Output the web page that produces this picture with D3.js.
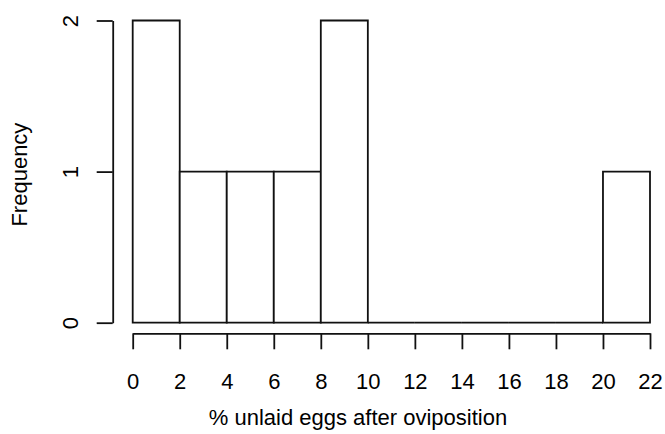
<!DOCTYPE html>
<html>
<head>
<meta charset="utf-8">
<script src="https://cdn.jsdelivr.net/npm/d3@7"></script>
<style>
  body { margin: 0; background: #fff; }
  svg text { font-family: "Liberation Sans", Arial, Helvetica, sans-serif; fill: #000; }
</style>
</head>
<body>
<div id="chart"></div>
<script>
// histogram bins (left edge, right edge) and counts
const binStarts = [0, 2, 4, 6, 8, 10, 12, 14, 16, 18, 20];
const binEnds   = [2, 4, 6, 8, 10, 12, 14, 16, 18, 20, 22];
const counts    = [2, 1, 1, 1, 2, 0, 0, 0, 0, 0, 1];
const xTicks = [0, 2, 4, 6, 8, 10, 12, 14, 16, 18, 20, 22];
const yTicks = [0, 1, 2];
const xLabel = "% unlaid eggs after oviposition";
const yLabel = "Frequency";

const W = 665, H = 434;
const fs = 22;

const svg = d3.select("#chart").append("svg")
    .attr("width", W).attr("height", H)
    .attr("viewBox", "0 0 " + W + " " + H);

const x = d3.scaleLinear().domain([0, 22]).range([132.7, 650]);
const y = d3.scaleLinear().domain([0, 2]).range([322.7, 20.5]);

// bars drawn as closed paths so empty bins still show as a flat line
svg.append("g").selectAll("path")
    .data(counts.map((c, i) => ({x0: binStarts[i], x1: binEnds[i], n: c})))
    .enter().append("path")
    .attr("d", d => {
      const p = d3.path();
      p.rect(x(d.x0), y(d.n), x(d.x1) - x(d.x0), y(0) - y(d.n));
      return p.toString();
    })
    .attr("fill", "#fff")
    .attr("stroke", "#111")
    .attr("stroke-width", 1.8)
    .attr("stroke-linejoin", "miter");

// x axis
const xAxis = svg.append("g")
    .attr("transform", "translate(0,333.3)")
    .call(d3.axisBottom(x).tickValues(xTicks).tickSize(16).tickPadding(24).tickSizeOuter(0));

// y axis
const yAxis = svg.append("g")
    .attr("transform", "translate(112.7,0)")
    .call(d3.axisLeft(y).tickValues(yTicks).tickSize(16).tickPadding(0).tickSizeOuter(0).tickFormat(d3.format("d")));

[xAxis, yAxis].forEach(a => {
  a.select(".domain").attr("stroke", "#111").attr("stroke-width", 1.8);
  a.selectAll(".tick line").attr("stroke", "#111").attr("stroke-width", 1.8);
  a.selectAll("text").style("font-size", fs + "px").attr("fill", "#000");
});

// rotate y tick labels like base R
yAxis.selectAll(".tick text")
    .attr("x", null).attr("dy", null)
    .attr("text-anchor", "middle")
    .attr("transform", "translate(-35,0) rotate(-90)");

xAxis.selectAll(".tick text").attr("dy", "0.71em");

// axis titles
svg.append("text")
    .attr("x", 358).attr("y", 425)
    .attr("text-anchor", "middle")
    .style("font-size", fs + "px")
    .text(xLabel);

svg.append("text")
    .attr("transform", "translate(27," + ((y(0) + y(2)) / 2 + 3) + ") rotate(-90)")
    .attr("text-anchor", "middle")
    .style("font-size", fs + "px")
    .text(yLabel);
</script>
</body>
</html>
